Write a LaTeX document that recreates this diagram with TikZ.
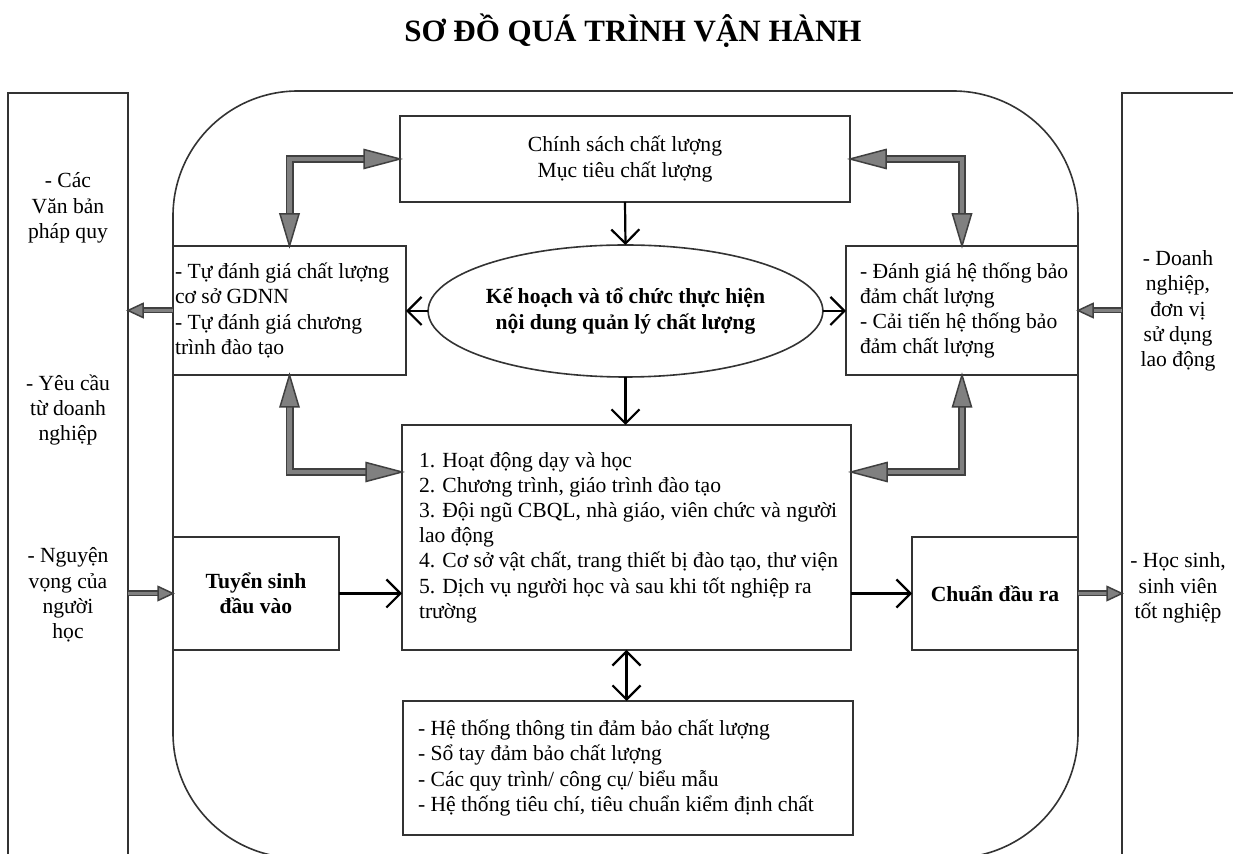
\documentclass[tikz,border=0pt]{standalone}
\usepackage{fontspec}
\setmainfont{Liberation Serif}
\usetikzlibrary{arrows.meta,shapes.geometric,calc}

\tikzset{
  ln/.style={draw=black!80, line width=0.8pt},
  sz/.style 2 args={minimum width=#1*0.5pt, minimum height=#2*0.5pt, inner sep=0pt, outer sep=0pt},
  txt/.style={font=\fontsize{10.8}{12.6}\selectfont},
  bld/.style={font=\fontsize{10.8}{12.6}\selectfont\bfseries},
  conn/.style={draw=black, line width=1.1pt, -{Straight Barb[length=7pt,width=14pt]}},
  fatout/.style={line width=4pt, draw=black!75},
  fatin/.style={line width=2.4pt, draw=black!50},
  headst/.style={fill=black!50, draw=black!75, line width=0.75pt, line join=miter},
}
\newcommand\fat[1]{\draw[fatout]#1;\draw[fatin]#1;}
\newcommand\fatsm[1]{\draw[fatout, line width=3pt]#1;\draw[fatin, line width=1.6pt]#1;}
\newcommand\head[4]{\filldraw[headst, shift={(#1)}, rotate=#2] (0,0) -- (-#3,#4*0.5) -- (-#3,-#4*0.5) -- cycle;}
\newcommand\lin[1]{\mbox{#1}}

\begin{document}
\begin{tikzpicture}[x=0.5pt, y=-0.5pt]
\useasboundingbox (0,0) rectangle (1233,854);
\fill[white] (0,0) rectangle (1233,854);
\clip (0,0) rectangle (1233,854);

% title
\node[font=\fontsize{15.5}{18}\selectfont\bfseries, anchor=base] (title) at (633,42) {SƠ ĐỒ QUÁ TRÌNH VẬN HÀNH};

% frame and side panels
\node[ln, sz={905}{767}, rounded corners=62.5pt] (frame) at (625.5,474.5) {};
\node[ln, sz={120}{800}] (lpan) at (68,493) {};
\node[ln, sz={140}{800}] (rpan) at (1192,493) {};

% side panel texts
\node[txt, align=center] (l1) at (68,208) {- Các\\Văn bản\\pháp quy};
\node[txt, align=center] (l2) at (68,410) {- Yêu cầu\\từ doanh\\nghiệp};
\node[txt, align=center] (l3) at (68,595) {- Nguyện\\vọng của\\người\\học};
\node[txt, align=center] (r1) at (1178,311) {- Doanh\\nghiệp,\\đơn vị\\sử dụng\\lao động};
\node[txt, align=center] (r2) at (1178,588) {- Học sinh,\\sinh viên\\tốt nghiệp};

% boxes
\node[ln, sz={450}{86}, txt, align=center] (chs) at (625,159) {Chính sách chất lượng\\Mục tiêu chất lượng};
\node[ln, ellipse, sz={345}{132}, bld, align=center] (ell) at (625.5,311) {Kế hoạch và tổ chức thực hiện\\nội dung quản lý chất lượng};
\node[ln, sz={233}{129}, txt, text width=114.5pt, align=flush left] (lbox) at (289.5,310.5)
  {\lin{- Tự đánh giá chất lượng}\\\lin{cơ sở GDNN}\\\lin{- Tự đánh giá chương}\\\lin{trình đào tạo}};
\node[ln, sz={232}{129}, txt, text width=102pt, align=flush left] (rbox) at (962,310.5)
  {\lin{- Đánh giá hệ thống bảo}\\\lin{đảm chất lượng}\\\lin{- Cải tiến hệ thống bảo}\\\lin{đảm chất lượng}};
\node[ln, sz={449}{225}, txt, text width=207.5pt, align=flush left] (mid) at (626.5,537.5)
  {\lin{1. Hoạt động dạy và học}\\\lin{2. Chương trình, giáo trình đào tạo}\\\lin{3. Đội ngũ CBQL, nhà giáo, viên chức và người}\\\lin{lao động}\\\lin{4. Cơ sở vật chất, trang thiết bị đào tạo, thư viện}\\\lin{5. Dịch vụ người học và sau khi tốt nghiệp ra}\\\lin{trường}};
\node[ln, sz={450}{134}, txt, text width=210pt, align=flush left] (bot) at (628,768)
  {\lin{- Hệ thống thông tin đảm bảo chất lượng}\\\lin{- Sổ tay đảm bảo chất lượng}\\\lin{- Các quy trình/ công cụ/ biểu mẫu}\\\lin{- Hệ thống tiêu chí, tiêu chuẩn kiểm định chất}};
\node[ln, sz={166}{113}, bld, align=center] (tuyen) at (256,593.5) {Tuyển sinh\\đầu vào};
\node[ln, sz={166}{113}, bld, align=center] (chuan) at (995,593.5) {Chuẩn đầu ra};

% black connectors
\draw[conn] (chs.south) -- (ell.north);
\draw[conn] (ell.west) -- (ell.west -| lbox.east);
\draw[conn] (ell.east) -- (ell.east -| rbox.west);
\draw[conn] (ell.south) -- (ell.south |- mid.north);
\draw[conn] (tuyen.east) -- (tuyen.east -| mid.west);
\draw[conn] (mid.east |- chuan.west) -- (chuan.west);
\draw[conn, {Straight Barb[length=7pt,width=14pt]}-{Straight Barb[length=7pt,width=14pt]}] (mid.south) -- (mid.south |- bot.north);

% fat grey elbow arrows
\coordinate (midL) at ($(mid.north west)+(0,47)$);
\coordinate (midR) at ($(mid.north east)+(0,47)$);
\fat{($(lbox.north)+(0,-30)$) -- (lbox.north |- chs.west) -- ($(chs.west)+(-34,0)$)}
\head{lbox.north}{-90}{32}{19}
\head{chs.west}{0}{36}{19}
\fat{($(rbox.north)+(0,-30)$) -- (rbox.north |- chs.east) -- ($(chs.east)+(34,0)$)}
\head{rbox.north}{-90}{32}{19}
\head{chs.east}{180}{36}{19}
\fat{($(lbox.south)+(0,30)$) -- (lbox.south |- midL) -- ($(midL)+(-34,0)$)}
\head{lbox.south}{90}{32}{19}
\head{midL}{0}{36}{19}
\fat{($(rbox.south)+(0,30)$) -- (rbox.south |- midR) -- ($(midR)+(34,0)$)}
\head{rbox.south}{90}{32}{19}
\head{midR}{180}{36}{19}

% small grey arrows
\coordinate (lpE1) at (lpan.east |- lbox.west);
\coordinate (rpW1) at (rpan.west |- rbox.east);
\coordinate (lpE2) at (lpan.east |- tuyen.west);
\coordinate (rpW2) at (rpan.west |- chuan.east);
\fatsm{(lbox.west) -- ($(lpE1)+(13,0)$)}
\head{lpE1}{180}{15}{14}
\fatsm{(rpW1) -- ($(rbox.east)+(13,0)$)}
\head{rbox.east}{180}{15}{14}
\fatsm{(lpE2) -- ($(tuyen.west)+(-13,0)$)}
\head{tuyen.west}{0}{15}{14}
\fatsm{(chuan.east) -- ($(rpW2)+(-13,0)$)}
\head{rpW2}{0}{15}{14}
\end{tikzpicture}
\end{document}
